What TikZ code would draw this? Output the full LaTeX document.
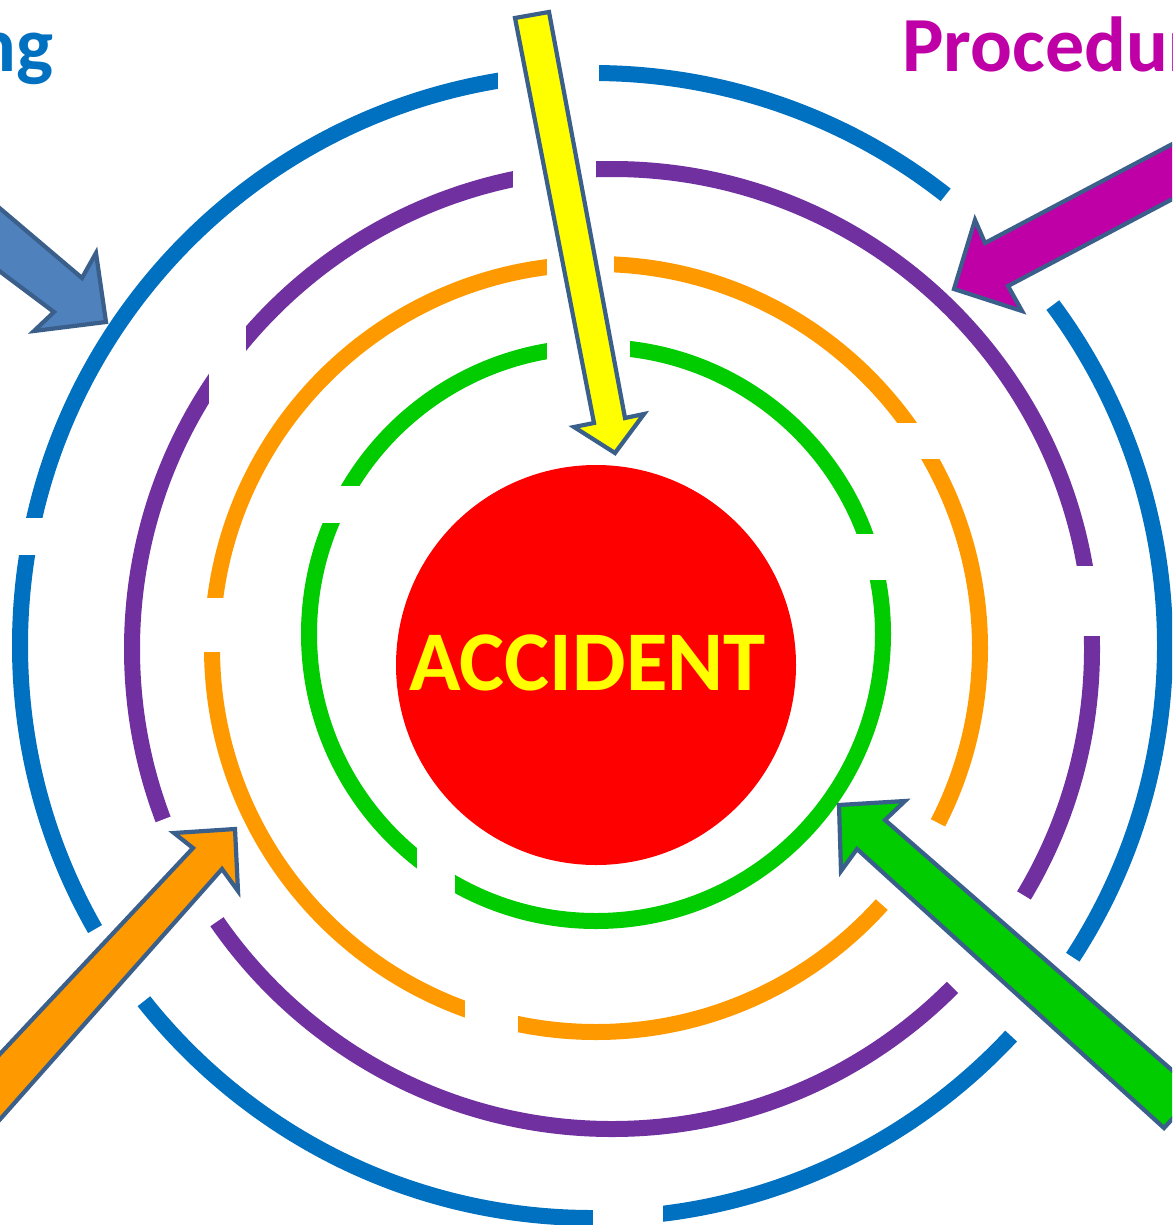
\documentclass[tikz,border=0pt]{standalone}
\usepackage{fontspec}
\setmainfont{Carlito}
\definecolor{cblue}{HTML}{0070C0}
\definecolor{cpurple}{HTML}{7030A0}
\definecolor{corange}{HTML}{FF9900}
\definecolor{cgreen}{HTML}{00CC00}
\definecolor{cred}{HTML}{FF0000}
\definecolor{cyellow}{HTML}{FFFF00}
\definecolor{cmag}{HTML}{BF00A6}
\definecolor{aline}{HTML}{3A5F8B}
\definecolor{ablue}{HTML}{4F81BD}
\tikzset{
  ring/.style={line width=16pt},
  gapw/.style={draw=white, line width=28pt},
  gaprect/.style={fill=white},
  blockarrow/.style={draw=aline, line width=4.2pt, line join=miter},
  bigtext/.style={font=\fontsize{78}{90}\selectfont\bfseries, inner sep=0pt},
}
\begin{document}
\begin{tikzpicture}[x=1pt,y=-1pt]
\useasboundingbox (0,0) rectangle (1172,1225);
\clip (0,0) rectangle (1172,1225);
\fill[white] (0,0) rectangle (1172,1225);

\coordinate (B) at (592.5,645.5);
\coordinate (P) at (612,649);
\coordinate (O) at (596,648);
\coordinate (G) at (596,634);
\coordinate (R) at (596,665);

% rings
\draw[ring, cblue]   (B) circle[radius=572.5pt];
\draw[ring, cpurple] (P) circle[radius=480pt];
\draw[ring, corange] (O) circle[radius=384pt];
\draw[ring, cgreen]  (G) circle[radius=287pt];

% gaps in blue ring
\fill[gaprect] (498,55) rectangle (599,100);
\fill[gaprect] (593,1190) rectangle (663,1240);
\fill[gaprect] (0,518) rectangle (45,555);
\draw[gapw, shift={(B)}] (36.5:572.5pt) arc[start angle=36.5, end angle=51.9, radius=572.5pt];
\draw[gapw, shift={(B)}] (-43:572.5pt) arc[start angle=-43, end angle=-33, radius=572.5pt];
\draw[gapw, shift={(B)}] (209.7:572.5pt) arc[start angle=209.7, end angle=218.4, radius=572.5pt];

% gaps in purple ring
\fill[gaprect] (513,150) rectangle (596,200);
\fill[gaprect] (209,315) rectangle (246,415);
\fill[gaprect] (1065,566) rectangle (1115,636);
\draw[gapw, shift={(P)}] (-44.8:480pt) arc[start angle=-44.8, end angle=-30.9, radius=480pt];
\draw[gapw, shift={(P)}] (200.8:480pt) arc[start angle=200.8, end angle=214.6, radius=480pt];

% gaps in orange ring
\fill[gaprect] (547,245) rectangle (614,290);
\fill[gaprect] (880,423) rectangle (955,459);
\fill[gaprect] (190,598) rectangle (235,652);
\fill[gaprect] (465,990) rectangle (518,1045);
\draw[gapw, shift={(O)}] (-41.9:384pt) arc[start angle=-41.9, end angle=-27.1, radius=384pt];

% gaps in green ring
\fill[gaprect] (547,330) rectangle (630,370);
\fill[gaprect] (305,486) rectangle (375,523);
\fill[gaprect] (855,534) rectangle (905,580);
\fill[gaprect] (417,835) rectangle (455,905);

% centre
\fill[cred] (R) circle[radius=200pt];
\node[bigtext, font=\fontsize{85}{95}\selectfont\bfseries, text=cyellow, anchor=base] (acc) at (587.5,690) {ACCIDENT};

% labels
\node[bigtext, text=cblue, anchor=base east] (train) at (54,72) {ng};
\node[bigtext, text=cmag, anchor=base west] (proc) at (902,72) {Procedur};

% block arrows
\filldraw[blockarrow, fill=cyellow] (515,18) -- (549,12) -- (625,418) -- (644,414) -- (615,453) -- (574,427) -- (594,423) -- cycle;
\filldraw[blockarrow, fill=ablue] (-50,166) -- (82,278) -- (96,253) -- (106,322) -- (34,331) -- (54,312) -- (-50,234) -- cycle;
\filldraw[blockarrow, fill=cmag] (1250,103) -- (985,243) -- (975,220) -- (954,289) -- (1022,311) -- (1008,286) -- (1250,158) -- cycle;
\filldraw[blockarrow, fill=corange] (-60,1118) -- (193,848) -- (174,833) -- (235,829) -- (238,891) -- (222,869) -- (-60,1187) -- cycle;
\filldraw[blockarrow, fill=cgreen] (839,805) -- (905,801) -- (885,820) -- (1197,1092) -- (1164,1128) -- (857,849) -- (841,871) -- cycle;
\end{tikzpicture}
\end{document}
